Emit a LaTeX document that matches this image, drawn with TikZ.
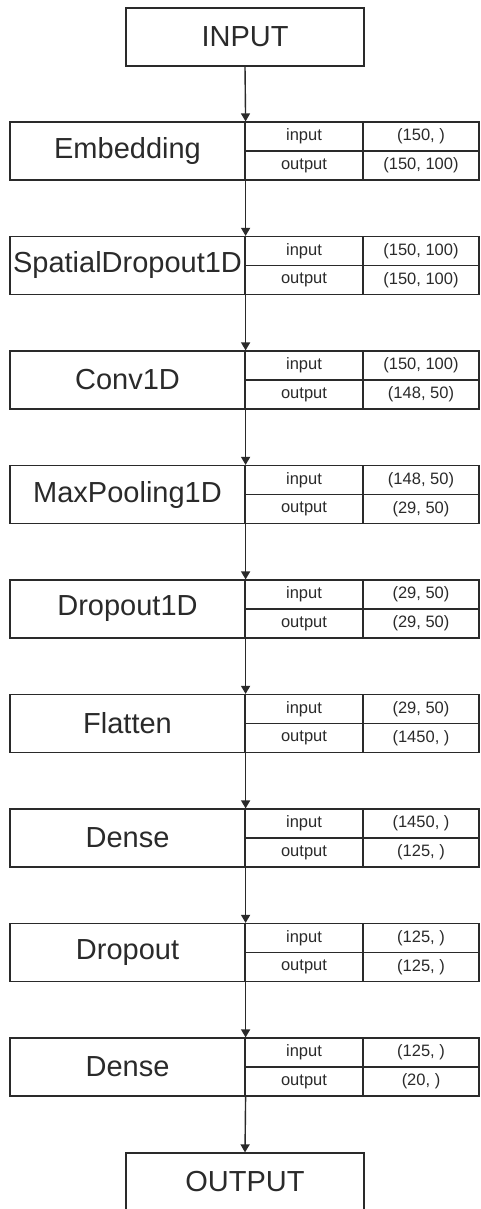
\documentclass[tikz,border=0pt]{standalone}
\usepackage{fontspec}
\setmainfont{Liberation Sans}
\usetikzlibrary{arrows.meta}
\definecolor{ink}{HTML}{2A2A2A}
\tikzset{
  box/.style={draw=ink, line width=1.2pt, text=ink, inner sep=0pt,
    font=\fontsize{29}{31}\selectfont},
  iobox/.style={box, minimum width=238pt, minimum height=58pt},
  layerbox/.style={box, minimum width=235pt, minimum height=58pt},
  keycell/.style={draw=ink, line width=1.2pt, text=ink, inner sep=0pt,
    minimum width=118pt, minimum height=29pt, font=\fontsize{16.5}{18}\selectfont},
  valcell/.style={keycell, minimum width=116pt},
  flow/.style={draw=ink, line width=1.4pt, -{Triangle[width=9pt,length=8pt]}}
}
\begin{document}
\begin{tikzpicture}[x=1pt, y=-1pt]
\useasboundingbox (0,0) rectangle (480,1209);

\node[iobox] (input) at (245,37) {INPUT};

\foreach \i/\name/\a/\b in {
  1/Embedding/{(150, )}/{(150, 100)},
  2/SpatialDropout1D/{(150, 100)}/{(150, 100)},
  3/Conv1D/{(150, 100)}/{(148, 50)},
  4/MaxPooling1D/{(148, 50)}/{(29, 50)},
  5/Dropout1D/{(29, 50)}/{(29, 50)},
  6/Flatten/{(29, 50)}/{(1450, )},
  7/Dense/{(1450, )}/{(125, )},
  8/Dropout/{(125, )}/{(125, )},
  9/Dense/{(125, )}/{(20, )}}{
  \pgfmathsetmacro{\top}{122+114.5*(\i-1)}
  \node[layerbox] (l\i) at (127.5,\top+29) {\name};
  \node[keycell] (l\i-ink) at (304,\top+14.5) {input};
  \node[keycell] (l\i-outk) at (304,\top+43.5) {output};
  \node[valcell] (l\i-inv) at (421,\top+14.5) {\a};
  \node[valcell] (l\i-outv) at (421,\top+43.5) {\b};
}

\node[iobox] (output) at (245,1182) {OUTPUT};

\draw[flow] (input.south) -- (l1.north east);
\foreach \i [evaluate=\i as \j using int(\i+1)] in {1,...,8}{
  \draw[flow] (l\i.south east) -- (l\j.north east);
}
\draw[flow] (l9.south east) -- (output.north);
\end{tikzpicture}
\end{document}
